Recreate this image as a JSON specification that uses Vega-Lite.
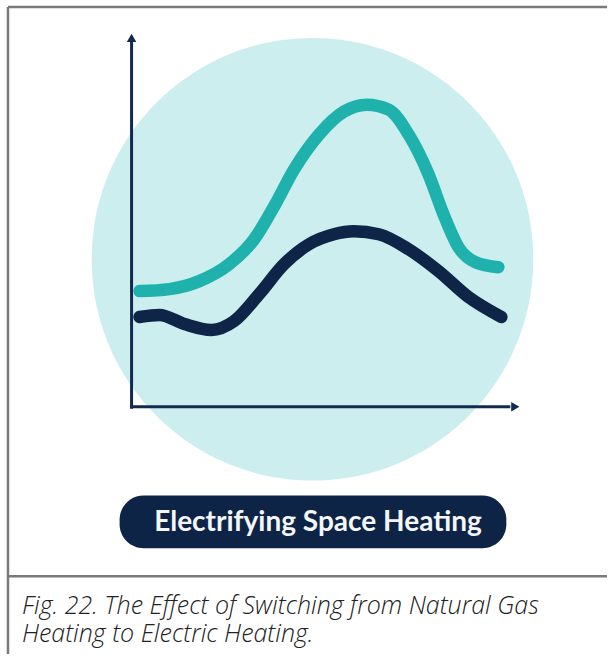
{
  "$schema": "https://vega.github.io/schema/vega-lite/v6.json",
  "width": 609,
  "height": 656,
  "autosize": {"type": "fit", "contains": "padding"},
  "padding": 0,
  "background": "white",
  "config": {"view": {"stroke": null}},
  "datasets": {
    "curves": [
      {"series": "electric", "t": 140, "v": 292},
      {"series": "electric", "t": 170, "v": 290},
      {"series": "electric", "t": 200, "v": 282},
      {"series": "electric", "t": 230, "v": 265},
      {"series": "electric", "t": 255, "v": 240},
      {"series": "electric", "t": 275, "v": 207},
      {"series": "electric", "t": 295, "v": 170},
      {"series": "electric", "t": 320, "v": 135},
      {"series": "electric", "t": 345, "v": 112},
      {"series": "electric", "t": 368, "v": 105},
      {"series": "electric", "t": 390, "v": 110},
      {"series": "electric", "t": 410, "v": 135},
      {"series": "electric", "t": 430, "v": 175},
      {"series": "electric", "t": 445, "v": 215},
      {"series": "electric", "t": 460, "v": 248},
      {"series": "electric", "t": 477, "v": 263},
      {"series": "electric", "t": 500, "v": 268},
      {"series": "gas", "t": 140, "v": 318},
      {"series": "gas", "t": 160, "v": 316},
      {"series": "gas", "t": 185, "v": 325},
      {"series": "gas", "t": 212, "v": 331},
      {"series": "gas", "t": 235, "v": 322},
      {"series": "gas", "t": 260, "v": 295},
      {"series": "gas", "t": 285, "v": 265},
      {"series": "gas", "t": 310, "v": 245},
      {"series": "gas", "t": 335, "v": 235},
      {"series": "gas", "t": 355, "v": 232},
      {"series": "gas", "t": 380, "v": 235},
      {"series": "gas", "t": 410, "v": 250},
      {"series": "gas", "t": 440, "v": 272},
      {"series": "gas", "t": 470, "v": 298},
      {"series": "gas", "t": 503, "v": 318}
    ]
  },
  "layer": [
    {
      "data": {"values": [
        {"x1": 8, "x2": 8, "y1": 7, "y2": 656},
        {"x1": 8, "x2": 609, "y1": 7, "y2": 7},
        {"x1": 8, "x2": 609, "y1": 578, "y2": 578}
      ]},
      "mark": {"type": "rule", "stroke": "#7a7a7a", "strokeWidth": 2.5},
      "encoding": {
        "x": {"field": "x1", "type": "quantitative", "scale": {"domain": [0, 609], "nice": false, "zero": false}, "axis": null},
        "x2": {"field": "x2"},
        "y": {"field": "y1", "type": "quantitative", "scale": {"domain": [0, 656], "reverse": true, "nice": false, "zero": false}, "axis": null},
        "y2": {"field": "y2"}
      }
    },
    {
      "data": {"values": [{"x1": 92, "x2": 535, "y1": 38, "y2": 482}]},
      "mark": {"type": "rect", "fill": "#cdeeef", "cornerRadius": 221.5},
      "encoding": {
        "x": {"field": "x1", "type": "quantitative"},
        "x2": {"field": "x2"},
        "y": {"field": "y1", "type": "quantitative"},
        "y2": {"field": "y2"}
      }
    },
    {
      "data": {"values": [{"x1": 132, "y1": 410, "y2": 42}]},
      "mark": {"type": "rule", "stroke": "#122a4f", "strokeWidth": 3},
      "encoding": {
        "x": {"field": "x1", "type": "quantitative"},
        "y": {"field": "y1", "type": "quantitative"},
        "y2": {"field": "y2"}
      }
    },
    {
      "data": {"values": [{"x1": 131, "x2": 512, "y1": 408}]},
      "mark": {"type": "rule", "stroke": "#122a4f", "strokeWidth": 3},
      "encoding": {
        "x": {"field": "x1", "type": "quantitative"},
        "x2": {"field": "x2"},
        "y": {"field": "y1", "type": "quantitative"}
      }
    },
    {
      "data": {"values": [{"x": 132, "y": 38, "dir": "up"}, {"x": 517, "y": 408, "dir": "right"}]},
      "mark": {"type": "point", "filled": true, "size": 90, "opacity": 1},
      "encoding": {
        "x": {"field": "x", "type": "quantitative"},
        "y": {"field": "y", "type": "quantitative"},
        "shape": {"field": "dir", "type": "nominal", "scale": {"domain": ["up", "right"], "range": ["triangle-up", "triangle-right"]}, "legend": null},
        "color": {"value": "#122a4f"}
      }
    },
    {
      "data": {"name": "curves"},
      "mark": {"type": "line", "strokeWidth": 12.5, "strokeCap": "round", "strokeJoin": "round", "interpolate": "monotone"},
      "encoding": {
        "x": {"field": "t", "type": "quantitative"},
        "y": {"field": "v", "type": "quantitative"},
        "color": {"field": "series", "type": "nominal", "scale": {"domain": ["electric", "gas"], "range": ["#1fb1ac", "#0f2547"]}, "legend": null},
        "order": {"field": "t", "type": "quantitative"}
      }
    },
    {
      "data": {"values": [{"x1": 120, "x2": 508, "y1": 497, "y2": 550}]},
      "mark": {"type": "rect", "fill": "#0d2447", "cornerRadius": 24},
      "encoding": {
        "x": {"field": "x1", "type": "quantitative"},
        "x2": {"field": "x2"},
        "y": {"field": "y1", "type": "quantitative"},
        "y2": {"field": "y2"}
      }
    },
    {
      "data": {"values": [{"x": 319, "y": 533, "label": "Electrifying Space Heating"}]},
      "mark": {"type": "text", "color": "#f4f6f8", "font": "Lato", "fontWeight": "bold", "fontSize": 28, "align": "center", "baseline": "alphabetic"},
      "encoding": {
        "x": {"field": "x", "type": "quantitative"},
        "y": {"field": "y", "type": "quantitative"},
        "text": {"field": "label"}
      }
    },
    {
      "data": {"values": [
        {"x": 22, "y": 616, "label": "Fig. 22. The Effect of Switching from Natural Gas\nHeating to Electric Heating."}
      ]},
      "mark": {"type": "text", "color": "#222222", "font": "Open Sans", "fontStyle": "italic", "fontWeight": 300, "fontSize": 25, "lineHeight": 28, "lineBreak": "\n", "align": "left", "baseline": "alphabetic"},
      "encoding": {
        "x": {"field": "x", "type": "quantitative"},
        "y": {"field": "y", "type": "quantitative"},
        "text": {"field": "label"}
      }
    }
  ]
}
